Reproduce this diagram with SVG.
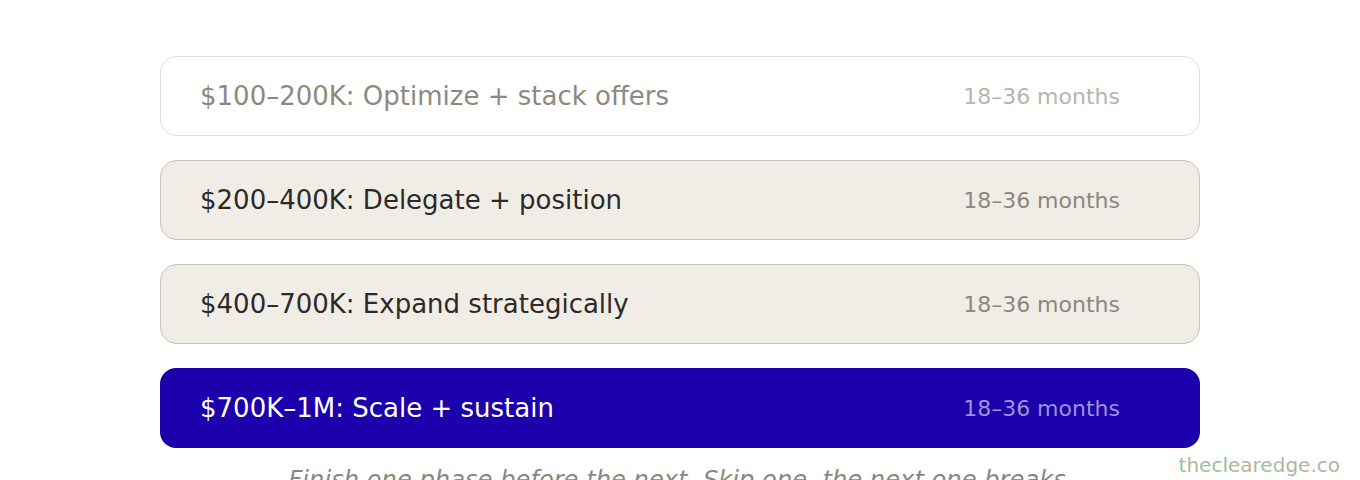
<svg xmlns="http://www.w3.org/2000/svg" width="1360" height="480" viewBox="0 0 1360 480">
<style>
.lbl{font-family:"DejaVu Sans",sans-serif;font-size:26px}
.dur{font-family:"DejaVu Sans",sans-serif;font-size:22px;text-anchor:end}
.cap{font-family:"DejaVu Sans",sans-serif;font-size:24.2px;font-style:italic;fill:#8a877e;text-anchor:middle}
.wm{font-family:"DejaVu Sans",sans-serif;font-size:20px;text-anchor:end}
.mid{fill:#f0ede6;stroke:#c9c3b9;stroke-width:1}
</style>
<rect width="1360" height="480" fill="#ffffff"/>
<g id="connectors"></g>
<g id="phase1">
<rect x="160.5" y="56.5" width="1039" height="79" rx="16" fill="#ffffff" stroke="#dedbd4"/>
<text class="lbl" x="200" y="105" fill="#8c8a80">$100–200K: Optimize + stack offers</text>
<text class="dur" x="1120" y="104" fill="#b8b4aa">18–36 months</text>
</g>
<g id="phase2">
<rect class="mid" x="160.5" y="160.5" width="1039" height="79" rx="16"/>
<text class="lbl" x="200" y="209" fill="#2b2a28">$200–400K: Delegate + position</text>
<text class="dur" x="1120" y="208" fill="#8a877e">18–36 months</text>
</g>
<g id="phase3">
<rect class="mid" x="160.5" y="264.5" width="1039" height="79" rx="16"/>
<text class="lbl" x="200" y="313" fill="#2b2a28">$400–700K: Expand strategically</text>
<text class="dur" x="1120" y="312" fill="#8a877e">18–36 months</text>
</g>
<g id="phase4">
<rect x="160" y="368" width="1040" height="80" rx="16" fill="#1b00ab"/>
<text class="lbl" x="200" y="417" fill="#ffffff">$700K–1M: Scale + sustain</text>
<text class="dur" x="1120" y="416" fill="#9d92de">18–36 months</text>
</g>
<text class="cap" x="681" y="488">Finish one phase before the next. Skip one, the next one breaks.</text>
<text class="wm" x="1340" y="472"><tspan fill="#86c8a0">t</tspan><tspan fill="#b4b49a">h</tspan><tspan fill="#9cbfa0">e</tspan><tspan fill="#a8b8a0">c</tspan><tspan fill="#7cc89c">l</tspan><tspan fill="#b8b49c">e</tspan><tspan fill="#c8b090">a</tspan><tspan fill="#a8bca0">r</tspan><tspan fill="#9cc0a0">e</tspan><tspan fill="#b0b8a0">d</tspan><tspan fill="#a4bc9c">g</tspan><tspan fill="#b8b49c">e</tspan><tspan fill="#9cc0a8">.</tspan><tspan fill="#a8b8a8">c</tspan><tspan fill="#b4b49c">o</tspan></text>
</svg>
